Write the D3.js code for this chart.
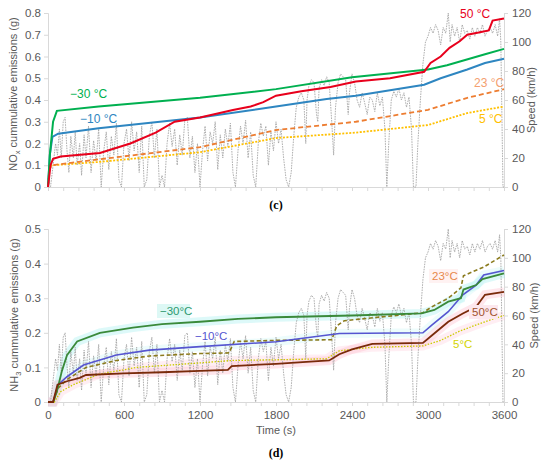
<!DOCTYPE html>
<html>
<head>
<meta charset="utf-8">
<script src="https://d3js.org/d3.v7.min.js"></script>
<style>
  body { margin: 0; background: #fff; }
  svg { display: block; }
</style>
</head>
<body>
<div id="chart"></div>
<script>
// time axis (s)
const timeTicks = [0, 600, 1200, 1800, 2400, 3000, 3600];
const noxTicks = [0, 0.1, 0.2, 0.3, 0.4, 0.5, 0.6, 0.7, 0.8];
const nh3Ticks = [0, 0.1, 0.2, 0.3, 0.4, 0.5];
const speedTicks = [0, 20, 40, 60, 80, 100, 120];

// vehicle speed (km/h), [time, speed]
const speed = [[0,0],[20,0],[40,15],[60,30],[75,22],[90,40],[105,20],[120,45],[135,48],[150,25],[165,10],[180,35],
  [200,20],[215,38],[230,15],[250,30],[265,8],[285,36],[300,20],[320,42],[340,10],[360,32],[380,18],[400,40],
  [420,0],[440,25],[460,38],[480,12],[500,35],[520,22],[540,44],[560,5],[580,0],[600,30],[620,40],[640,18],
  [660,45],[680,25],[700,38],[720,10],[740,42],[760,0],[780,5],[800,35],[820,45],[840,20],[860,40],[880,0],
  [900,8],[920,0],[940,30],[960,44],[980,28],[1000,40],[1020,15],[1040,36],[1060,22],[1080,46],[1100,48],
  [1120,20],[1140,35],[1160,10],[1180,30],[1200,0],[1220,25],[1240,42],[1260,18],[1280,38],[1300,30],[1320,45],
  [1340,12],[1360,36],[1380,20],[1400,40],[1420,28],[1440,44],[1460,10],[1480,0],[1500,25],[1520,42],[1540,30],
  [1560,46],[1580,20],[1600,38],[1620,8],[1640,0],[1660,30],[1680,44],[1700,35],[1720,42],[1740,15],[1760,38],
  [1780,25],[1800,45],[1820,30],[1840,40],[1860,20],[1880,5],[1900,0],[1920,10],[1940,35],
  [1960,55],[1980,62],[2000,65],[2020,60],[2035,30],[2045,60],[2060,70],[2080,74],[2100,72],[2120,50],[2130,45],
  [2140,68],[2160,74],[2180,70],[2200,76],[2220,72],[2240,45],[2255,22],[2270,55],[2290,72],[2310,78],[2330,76],
  [2350,74],[2370,50],[2380,65],[2400,78],[2420,72],[2440,60],[2460,55],[2480,65],[2500,58],[2520,50],[2540,62],
  [2560,60],[2580,52],[2600,65],[2620,56],[2640,62],[2660,40],[2675,0],[2690,30],[2710,60],[2730,66],[2750,62],
  [2770,68],[2790,60],[2810,65],[2830,55],[2850,62],[2870,40],[2885,0],[2905,0],[2920,30],[2940,60],[2960,85],
  [2980,100],[3000,104],[3020,110],[3040,106],[3060,112],[3080,108],[3100,98],[3120,110],[3140,106],[3160,120],
  [3175,100],[3190,112],[3210,104],[3230,110],[3250,100],[3270,112],[3290,106],[3310,108],[3330,102],[3350,110],
  [3370,104],[3390,110],[3410,106],[3430,112],[3450,104],[3470,108],[3490,110],[3510,106],[3530,112],[3550,104],
  [3565,116],[3575,100],[3585,40],[3592,0],[3600,0]];

// NOx cumulative (g)
const noxM30 = [[0,0],[15,0.15],[40,0.3],[70,0.35],[400,0.37],[1200,0.41],[1800,0.45],[2400,0.505],[3000,0.54],
  [3150,0.56],[3300,0.585],[3450,0.61],[3600,0.635]];
const noxM10 = [[0,0],[15,0.15],[35,0.23],[80,0.245],[400,0.27],[1200,0.32],[1800,0.37],[2200,0.405],[2430,0.42],
  [2970,0.47],[3100,0.5],[3310,0.54],[3450,0.57],[3600,0.59]];
const nox50 = [[0,0],[20,0.1],[40,0.13],[100,0.14],[410,0.156],[650,0.2],[850,0.25],[1000,0.3],[1200,0.32],
  [1460,0.354],[1600,0.37],[1700,0.39],[1800,0.42],[2000,0.44],[2230,0.46],[2430,0.485],[2700,0.5],[2970,0.53],
  [3020,0.57],[3100,0.6],[3170,0.64],[3250,0.67],[3310,0.7],[3400,0.71],[3480,0.72],[3510,0.765],[3600,0.775]];
const nox23 = [[0,0],[10,0.08],[30,0.1],[400,0.127],[1200,0.183],[1800,0.262],[2430,0.3],[3000,0.355],[3310,0.41],[3600,0.45]];
const nox5 = [[0,0],[10,0.08],[30,0.1],[400,0.115],[1200,0.16],[1800,0.225],[2430,0.25],[3000,0.285],[3310,0.34],[3600,0.37]];

// NH3 cumulative (g)
const nh3M30 = [[0,0],[40,0],[70,0.03],[110,0.09],[150,0.135],[230,0.175],[410,0.2],[670,0.215],[900,0.225],
  [1200,0.232],[1500,0.24],[1800,0.245],[2400,0.25],[2950,0.256],[3050,0.266],[3160,0.29],[3260,0.3],[3280,0.325],
  [3380,0.338],[3430,0.355],[3600,0.372]];
const nh3M10 = [[0,0],[40,0],[80,0.05],[150,0.073],[280,0.107],[540,0.136],[800,0.15],[1200,0.16],[1800,0.174],
  [2300,0.198],[2960,0.2],[3030,0.222],[3160,0.261],[3275,0.31],[3380,0.338],[3440,0.367],[3600,0.38]];
const nh323 = [[0,0],[40,0],[80,0.04],[150,0.065],[300,0.1],[540,0.12],[800,0.133],[1200,0.14],[1430,0.142],
  [1470,0.175],[1800,0.178],[2240,0.18],[2280,0.22],[2340,0.235],[2960,0.258],[3030,0.275],[3160,0.3],[3260,0.33],
  [3280,0.365],[3440,0.39],[3600,0.425]];
const nh35 = [[0,0],[50,0],[100,0.03],[200,0.05],[400,0.08],[700,0.1],[1200,0.113],[1450,0.12],[1800,0.122],
  [2200,0.125],[2300,0.148],[2550,0.158],[2960,0.162],[3100,0.178],[3250,0.205],[3450,0.232],[3600,0.25]];
const nh350 = [[0,0],[40,0],[75,0.05],[150,0.06],[250,0.07],[300,0.078],[600,0.083],[900,0.086],[1200,0.09],
  [1420,0.093],[1450,0.104],[1800,0.11],[2220,0.12],[2300,0.138],[2400,0.152],[2560,0.168],[2960,0.171],
  [3030,0.192],[3160,0.232],[3275,0.256],[3380,0.275],[3450,0.31],[3600,0.318]];

const width = 550, height = 465;
const svg = d3.select("#chart").append("svg")
  .attr("width", width).attr("height", height)
  .attr("font-family", "Liberation Sans, Arial, sans-serif");

const x = d3.scaleLinear().domain([0, 3600]).range([48, 504]);
const axisGrey = "#d9d9d9", textGrey = "#595959";

function styleAxis(g) {
  g.select(".domain").attr("stroke", axisGrey);
  g.selectAll(".tick line").attr("stroke", axisGrey);
  g.selectAll(".tick text").attr("fill", textGrey).attr("font-size", 11.5);
}

function drawPanel(p) {
  const y = d3.scaleLinear().domain([0, p.yMax]).range([p.bottom, p.top]);
  const ys = d3.scaleLinear().domain([0, 120]).range([p.bottom, p.top]);

  // axes
  svg.append("g").attr("transform", `translate(0,${p.bottom})`)
    .call(d3.axisBottom(x).tickValues(d3.range(0, 3601, 120)).tickSize(4)
      .tickFormat(d => (p.showTime && timeTicks.includes(d)) ? d : ""))
    .call(styleAxis)
    .call(g => g.selectAll(".tick text").attr("dy", "0.85em"));
  svg.append("g").attr("transform", "translate(48,0)")
    .call(d3.axisLeft(y).tickValues(p.ticks).tickSize(4).tickPadding(3)
      .tickFormat(d => d === 0 ? "0" : d3.format(".1f")(d)))
    .call(styleAxis);
  svg.append("g").attr("transform", "translate(504,0)")
    .call(d3.axisRight(ys).tickValues(speedTicks).tickSize(4).tickPadding(4))
    .call(styleAxis);

  // glow bands
  const line = d3.line().x(d => x(d[0])).y(d => y(d[1]));
  p.glows.forEach(gl => {
    svg.append("path").datum(gl.data)
      .attr("fill", "none").attr("stroke", gl.color).attr("stroke-width", 9)
      .attr("stroke-opacity", gl.op).attr("d", line);
  });

  // speed trace
  svg.append("path").datum(speed)
    .attr("fill", "none").attr("stroke", "#a6a6a6").attr("stroke-width", 0.9)
    .attr("stroke-dasharray", "1.6,1")
    .attr("d", d3.line().x(d => x(d[0])).y(d => ys(d[1])));

  p.series.forEach(s => {
    svg.append("path").datum(s.data)
      .attr("fill", "none").attr("stroke", s.color).attr("stroke-width", s.w)
      .attr("stroke-dasharray", s.dash || null)
      .attr("d", line);
  });

  p.labels.forEach(l => {
    if (l.bg) {
      svg.append("rect").attr("x", l.x - 3).attr("y", l.y - 11).attr("width", l.bw).attr("height", 14)
        .attr("fill", l.bg);
    }
    svg.append("text").attr("x", l.x).attr("y", l.y).attr("fill", l.color)
      .attr("font-size", p.labelSize).text(l.text);
  });

  // axis titles
  const t = svg.append("text")
    .attr("transform", `translate(${p.leftX},${p.leftY}) rotate(-90)`)
    .attr("text-anchor", "middle").attr("fill", textGrey).attr("font-size", 11);
  t.append("tspan").text(p.gas[0]);
  t.append("tspan").attr("dy", 3).attr("font-size", 7.5).text(p.gas[1]);
  t.append("tspan").attr("dy", -3).text(" cummulative emissions (g)");

  svg.append("text")
    .attr("transform", `translate(${p.rightX},${(p.top + p.bottom) / 2}) rotate(-90)`)
    .attr("text-anchor", "middle").attr("fill", textGrey).attr("font-size", 11)
    .text("Speed (km/h)");

  svg.append("text").attr("x", 276).attr("y", p.tagY).attr("text-anchor", "middle")
    .attr("font-family", "Liberation Serif, Times New Roman, serif").attr("font-weight", "bold")
    .attr("font-size", 12).attr("fill", "#000").text(p.tag);
}

drawPanel({
  top: 13, bottom: 187, yMax: 0.8, ticks: noxTicks, showTime: false,
  gas: ["NO", "x"], leftX: 17, leftY: 94, rightX: 535, tag: "(c)", tagY: 209, labelSize: 12,
  glows: [],
  series: [
    {data: nox5, color: "#FFC000", w: 1.8, dash: "2,1.5"},
    {data: nox23, color: "#ED7D31", w: 1.8, dash: "5,3"},
    {data: noxM10, color: "#2E86C1", w: 2},
    {data: noxM30, color: "#00B050", w: 2},
    {data: nox50, color: "#E8001C", w: 2}
  ],
  labels: [
    {text: "\u221230 \u00b0C", x: 70, y: 98, color: "#00B050"},
    {text: "\u221210 \u00b0C", x: 80, y: 123, color: "#2E86C1"},
    {text: "50 \u00b0C", x: 460, y: 18, color: "#E8001C"},
    {text: "23 \u00b0C", x: 474, y: 87, color: "#F4A070"},
    {text: "5 \u00b0C", x: 479, y: 123, color: "#FFC000"}
  ]
});

drawPanel({
  top: 229, bottom: 402, yMax: 0.5, ticks: nh3Ticks, showTime: true,
  gas: ["NH", "3"], leftX: 18, leftY: 315, rightX: 538, tag: "(d)", tagY: 457, labelSize: 11.5,
  glows: [
    {data: nh3M30, color: "#9EEFEF", op: 0.35},
    {data: nh3M10, color: "#B8F2F2", op: 0.25},
    {data: nh35, color: "#FFC8D8", op: 0.3},
    {data: nh350, color: "#FFC0D0", op: 0.4}
  ],
  series: [
    {data: nh35, color: "#CCCC00", w: 1.3, dash: "1.5,1.5"},
    {data: nh323, color: "#8B7B1E", w: 1.6, dash: "4,2.5"},
    {data: nh3M10, color: "#5555D0", w: 1.6},
    {data: nh3M30, color: "#3A8A3A", w: 1.8},
    {data: nh350, color: "#7A2A0A", w: 1.8}
  ],
  labels: [
    {text: "\u221230\u00b0C", x: 160, y: 315, color: "#2E9A70", bg: "#DDF8F5", bw: 33},
    {text: "\u221210\u00b0C", x: 195, y: 340, color: "#5555D0"},
    {text: "23\u00b0C", x: 432, y: 280, color: "#E8884A", bg: "#FFF2F2", bw: 29},
    {text: "50\u00b0C", x: 472, y: 316, color: "#A0522D", bg: "#FCE8EE", bw: 29},
    {text: "5\u00b0C", x: 453, y: 348, color: "#D4D400"}
  ]
});

svg.append("text").attr("x", 276).attr("y", 434).attr("text-anchor", "middle")
  .attr("fill", textGrey).attr("font-size", 11).text("Time (s)");
</script>
</body>
</html>
